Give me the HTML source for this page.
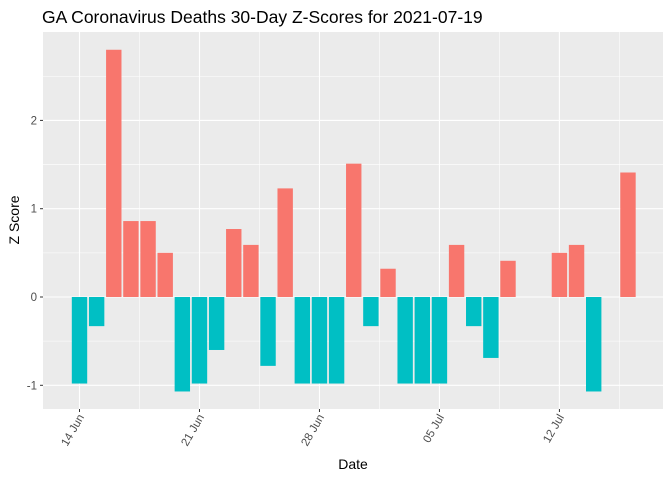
<!DOCTYPE html>
<html><head><meta charset="utf-8"><style>
body{margin:0;background:#fff;font-family:"Liberation Sans",sans-serif}
</style></head><body>
<svg id="c" width="672" height="480" xmlns="http://www.w3.org/2000/svg">
<text x="42" y="23" font-size="17.5" fill="#000">GA Coronavirus Deaths 30-Day Z-Scores for 2021-07-19</text>
<rect x="43" y="32" width="620" height="377" fill="#EBEBEB"/>
<g id="grid"></g><g id="bars"></g><g id="axes"></g>
<text x="353" y="469" font-size="14" text-anchor="middle">Date</text>
<text transform="translate(19,220) rotate(-90)" font-size="14" text-anchor="middle">Z Score</text>
</svg>
<script>
const values=[-0.98,-0.33,2.8,0.86,0.86,0.5,-1.07,-0.98,-0.6,0.77,0.59,-0.78,1.23,-0.98,-0.98,-0.98,1.51,-0.33,0.32,-0.98,-0.98,-0.98,0.59,-0.33,-0.69,0.41,0,0,0.5,0.59,-1.07,0,1.41];
const startDay=0; // 14 Jun
const xTickDays=[0,7,14,21,28];
const xTickLabels=["14 Jun","21 Jun","28 Jun","05 Jul","12 Jul"];
const yTicks=[-1,0,1,2];
const NS="http://www.w3.org/2000/svg";
const xs=d=>79.5+d*17.14;
const ys=v=>297-v*88.3;
const L=43,R=663,T=32,B=409;
function mk(t,a,p){const e=document.createElementNS(NS,t);for(const k in a)e.setAttribute(k,a[k]);p.appendChild(e);return e;}
const g=document.getElementById('grid'),bg=document.getElementById('bars'),ax=document.getElementById('axes');
for(let v=-1.5;v<=2.5;v+=0.5){const major=Number.isInteger(v);
 const l=mk('line',{x1:L,x2:R,y1:ys(v),y2:ys(v),stroke:'#fff','stroke-width':major?1.1:0.55},g);
 }
for(let d=-3.5;d<=35;d+=3.5){const x=xs(d);if(x<L||x>R)continue;
 const major=xTickDays.includes(d);
 const l=mk('line',{x1:x,x2:x,y1:T,y2:B,stroke:'#fff','stroke-width':major?1.1:0.55},g);
 }
values.forEach((v,i)=>{const x=xs(startDay+i);const y0=ys(0),y1=ys(v);
 const r=mk('rect',{x:x-7.7,width:15.4,y:Math.min(y0,y1),height:Math.abs(y1-y0),fill:v>0?'#F8766D':'#00BFC4'},bg);
 });
yTicks.forEach(v=>{const y=ys(v);
 mk('line',{x1:L-3,x2:L,y1:y,y2:y,stroke:'#333'},ax);
 const t=mk('text',{x:L-6,y:y+4,'font-size':11.5,fill:'#4D4D4D','text-anchor':'end'},ax);t.textContent=v;
 });
xTickDays.forEach((d,i)=>{const x=xs(d);
 mk('line',{x1:x,x2:x,y1:B,y2:B+3,stroke:'#333'},ax);
 const t=mk('text',{transform:`translate(${x+5},${B+8}) rotate(-60)`,'font-size':11.5,fill:'#4D4D4D','text-anchor':'end'},ax);t.textContent=xTickLabels[i];
 });
</script>
</body></html>
